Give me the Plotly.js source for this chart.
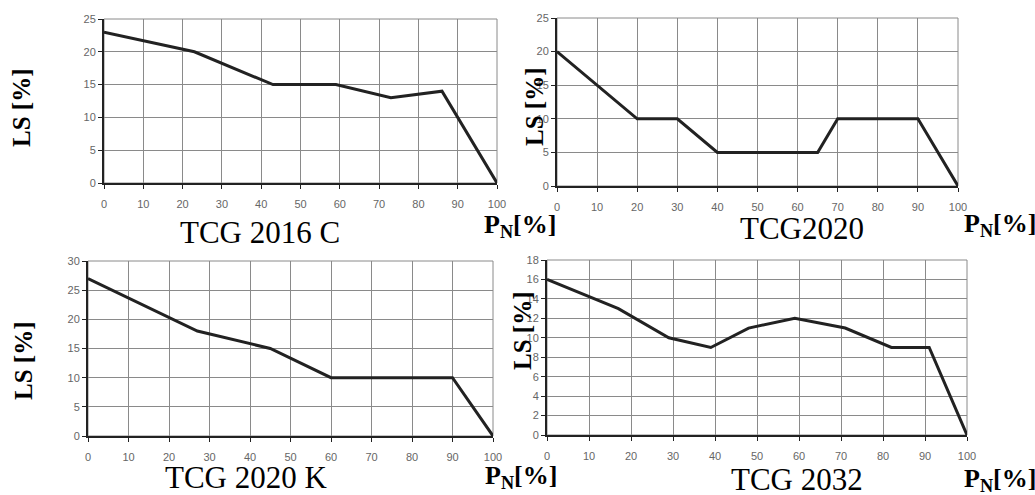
<!DOCTYPE html>
<html>
<head>
<meta charset="utf-8">
<script src="https://cdn.plot.ly/plotly-3.0.1.min.js"></script>
<style>html,body{margin:0;padding:0;background:#fff;}#chart{width:1035px;height:495px;}</style>
</head>
<body>
<div id="chart"></div>
<script>
// Data
const titles = ["TCG 2016 C", "TCG2020", "TCG 2020 K", "TCG 2032"];
const pn2016c = [0, 23, 43, 59, 73, 86, 100];
const ls2016c = [23, 20, 15, 15, 13, 14, 0];
const pn2020 = [0, 20, 30, 40, 65, 70, 90, 100];
const ls2020 = [20, 10, 10, 5, 5, 10, 10, 0];
const pn2020k = [0, 27, 45, 60, 90, 100];
const ls2020k = [27, 18, 15, 10, 10, 0];
const pn2032 = [0, 17, 29, 39, 48, 59, 71, 82, 91, 100];
const ls2032 = [16, 13, 10, 9, 11, 12, 11, 9, 9, 0];
const yMax = [25, 25, 30, 18];
const yStep = [5, 5, 5, 2];
const xLabel = "P<sub>N</sub>[%]";
const yLabel = "LS [%]";

const W = 1035, H = 495;
const px = v => v / W;
const py = v => 1 - v / H;

// plot areas in pixels [x0, x1, ytop, ybottom]
const boxes = [
  [104, 497, 19, 183],
  [557, 958, 18, 186],
  [88, 493, 261, 436],
  [547, 967, 260, 435]
];
const xs = [pn2016c, pn2020, pn2020k, pn2032];
const ys = [ls2016c, ls2020, ls2020k, ls2032];

const data = [];
const layout = {
  width: W, height: H,
  margin: {l: 0, r: 0, t: 0, b: 0},
  paper_bgcolor: '#fff', plot_bgcolor: '#fff',
  showlegend: false,
  annotations: []
};

for (let i = 0; i < 4; i++) {
  const sfx = i === 0 ? '' : String(i + 1);
  data.push({
    x: xs[i], y: ys[i], type: 'scatter', mode: 'lines',
    line: {color: '#222', width: 3},
    xaxis: 'x' + sfx, yaxis: 'y' + sfx, hoverinfo: 'skip'
  });
  const b = boxes[i];
  const common = {
    showline: true, linecolor: '#222', linewidth: 2,
    showgrid: true, gridcolor: '#8a8a8a', gridwidth: 1,
    zeroline: false, ticks: 'outside', ticklen: 4, tickwidth: 1, tickcolor: '#222',
    tickfont: {family: 'Liberation Sans, Arial, sans-serif', size: 11, color: '#666'},
    fixedrange: true
  };
  layout['xaxis' + sfx] = Object.assign({}, common, {
    domain: [px(b[0]), px(b[1])], range: [0, 100], dtick: 10, tick0: 0,
    anchor: 'y' + sfx, ticklabelstandoff: 6
  });
  layout['yaxis' + sfx] = Object.assign({}, common, {
    domain: [py(b[3]), py(b[2])], range: [0, yMax[i]], dtick: yStep[i], tick0: 0,
    anchor: 'x' + sfx
  });
}

// frame lines on top and right (light gray like gridlines)
layout.shapes = boxes.map(b => ({
  type: 'rect', xref: 'paper', yref: 'paper',
  x0: px(b[0]), x1: px(b[1]), y0: py(b[3]), y1: py(b[2]),
  line: {color: '#8a8a8a', width: 1}, layer: 'below'
}));

const serif = 'Liberation Serif, Times New Roman, serif';
// chart titles [cx, cy]
const titlePos = [[260, 232], [802, 228], [246, 477], [797, 479]];
titlePos.forEach((p, i) => {
  layout.annotations.push({
    text: titles[i], xref: 'paper', yref: 'paper', x: px(p[0]), y: py(p[1]),
    xanchor: 'center', yanchor: 'middle', showarrow: false,
    font: {family: serif, size: 31, color: '#000'}
  });
});
// x labels [left, cy]
const xlPos = [[482, 226], [962, 225], [483, 477], [962, 480]];
xlPos.forEach(p => {
  layout.annotations.push({
    text: '<b>' + xLabel + '</b>', xref: 'paper', yref: 'paper', x: px(p[0]), y: py(p[1]),
    xanchor: 'left', yanchor: 'middle', showarrow: false,
    font: {family: serif, size: 26, color: '#000'}
  });
});
// y labels [cx, cy]
const ylPos = [[22, 108], [534, 107], [23, 361], [522, 331]];
ylPos.forEach(p => {
  layout.annotations.push({
    text: '<b>' + yLabel + '</b>', xref: 'paper', yref: 'paper', x: px(p[0]), y: py(p[1]),
    xanchor: 'center', yanchor: 'middle', showarrow: false, textangle: -90,
    font: {family: serif, size: 25, color: '#000'}
  });
});

Plotly.newPlot('chart', data, layout, {staticPlot: true, displayModeBar: false});
</script>
</body>
</html>
